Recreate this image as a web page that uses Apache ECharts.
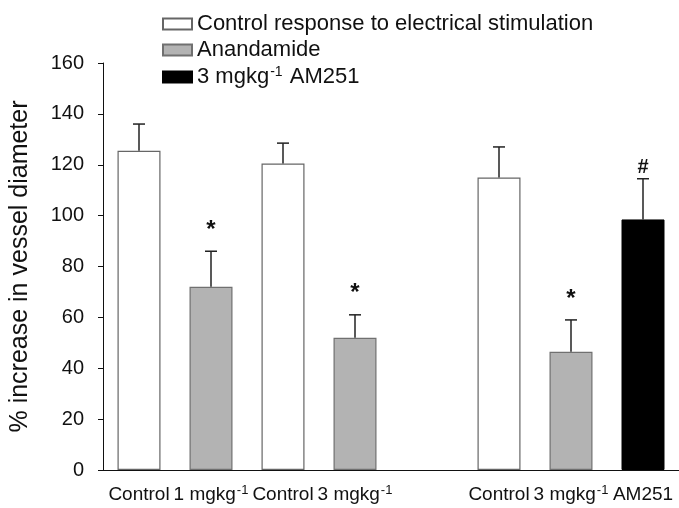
<!DOCTYPE html>
<html>
<head>
<meta charset="utf-8">
<script src="https://cdn.jsdelivr.net/npm/echarts@6/dist/echarts.min.js"></script>
<style>html,body{margin:0;padding:0;background:#fff}#c{width:679px;height:508px}</style>
</head>
<body>
<div id="c"></div>
<script>
var categories = ['Control', '1 mgkg-1', 'Control', '3 mgkg-1', '', 'Control', '3 mgkg-1', 'AM251'];
var controlValues = [125.5, null, 120.5, null, null, 115, null, null];
var anandamideValues = [null, 72, null, 52, null, null, 46.5, null];
var am251Values = [null, null, null, null, null, null, null, 98.5];
var errorValues = [10.5, 14, 8, 9, null, 12, 12.5, 16];
var markers = ['', '*', '', '*', '', '', '*', '#'];
var legendNames = ['Control response to electrical stimulation', 'Anandamide', '3 mgkg-1 AM251'];
var yTicks = {min: 0, max: 160, interval: 20};

var FONT = 'Liberation Sans, Arial, sans-serif';
function supFmt(s) {
  var i = s.indexOf('-1');
  if (i < 0) return '{b|' + s + '}';
  var out = '';
  if (i > 0) out += '{b|' + s.slice(0, i) + '}';
  out += '{sup|-1}';
  if (i + 2 < s.length) out += '{b|' + s.slice(i + 2) + '}';
  return out;
}

var errData = [];
for (var i = 0; i < categories.length; i++) {
  var v = controlValues[i] != null ? controlValues[i] : (anandamideValues[i] != null ? anandamideValues[i] : am251Values[i]);
  if (v != null && errorValues[i] != null) errData.push([i, v, errorValues[i]]);
}

var chart = echarts.init(document.getElementById('c'), null, {renderer: 'canvas'});
var option = {
  animation: false,
  textStyle: {fontFamily: FONT},
  grid: {left: 103, right: 0, top: 63, bottom: 38, containLabel: false},
  legend: {
    orient: 'vertical', left: 157, top: 8, itemWidth: 29, itemHeight: 11, itemGap: 4,
    icon: 'rect',
    data: legendNames,
    formatter: function (n) { return supFmt(n); },
    textStyle: {
      fontFamily: FONT, fontSize: 22, color: '#111', lineHeight: 22,
      rich: {
        b: {fontFamily: FONT, fontSize: 22, color: '#111', lineHeight: 22},
        sup: {fontFamily: FONT, fontSize: 14, color: '#111', lineHeight: 22, padding: [0, 1, 10, 1]}
      }
    }
  },
  xAxis: {
    type: 'category', data: categories, boundaryGap: true,
    axisLine: {lineStyle: {color: '#111', width: 1}},
    axisTick: {show: false},
    axisLabel: {
      interval: 0, margin: 15, color: '#111', fontSize: 19, fontFamily: FONT,
      formatter: function (s) { return s ? supFmt(s) : ''; },
      rich: {
        b: {fontFamily: FONT, fontSize: 19, color: '#111', lineHeight: 20},
        sup: {fontFamily: FONT, fontSize: 13, color: '#111', lineHeight: 20, padding: [0, 0, 9, 1]}
      }
    }
  },
  yAxis: {
    type: 'value', min: yTicks.min, max: yTicks.max, interval: yTicks.interval,
    name: '% increase in vessel diameter', nameLocation: 'middle', nameGap: 70,
    nameTextStyle: {fontFamily: FONT, fontSize: 25, color: '#111'},
    axisLine: {show: true, lineStyle: {color: '#111', width: 1}},
    axisTick: {show: true, inside: false, length: 5, lineStyle: {color: '#111'}},
    axisLabel: {margin: 19, color: '#111', fontSize: 20, fontFamily: FONT},
    splitLine: {show: false}
  },
  series: [
    {name: legendNames[0], type: 'bar', data: controlValues, barWidth: 43, barGap: '-100%',
      itemStyle: {color: '#ffffff', borderColor: '#666', borderWidth: 1.2}},
    {name: legendNames[1], type: 'bar', data: anandamideValues, barWidth: 43, barGap: '-100%',
      itemStyle: {color: '#b3b3b3', borderColor: '#707070', borderWidth: 1.2}},
    {name: legendNames[2], type: 'bar', data: am251Values, barWidth: 43, barGap: '-100%',
      itemStyle: {color: '#000000', borderColor: '#000', borderWidth: 1}},
    {type: 'custom', data: errData, z: 10,
      renderItem: function (params, api) {
        var x = api.value(0), v = api.value(1), e = api.value(2);
        var p0 = api.coord([x, v]);
        var p1 = api.coord([x, v + e]);
        var cap = 6;
        var children = [
          {type: 'line', shape: {x1: p0[0], y1: p0[1], x2: p1[0], y2: p1[1]}, style: {stroke: '#222', lineWidth: 1.5}},
          {type: 'line', shape: {x1: p1[0] - cap, y1: p1[1], x2: p1[0] + cap, y2: p1[1]}, style: {stroke: '#222', lineWidth: 1.5}}
        ];
        var m = markers[x];
        if (m === '*') {
          children.push({type: 'text', style: {text: '*', x: p1[0], y: p1[1] - 9, align: 'center', verticalAlign: 'bottom', fontFamily: FONT, fontSize: 24, fontWeight: 'bold', fill: '#111'}});
        } else if (m === '#') {
          children.push({type: 'text', style: {text: '#', x: p1[0], y: p1[1] - 1, align: 'center', verticalAlign: 'bottom', fontFamily: FONT, fontSize: 20, fontWeight: 'bold', fill: '#111'}});
        }
        return {type: 'group', children: children};
      }
    }
  ]
};
chart.setOption(option);
</script>
</body>
</html>
